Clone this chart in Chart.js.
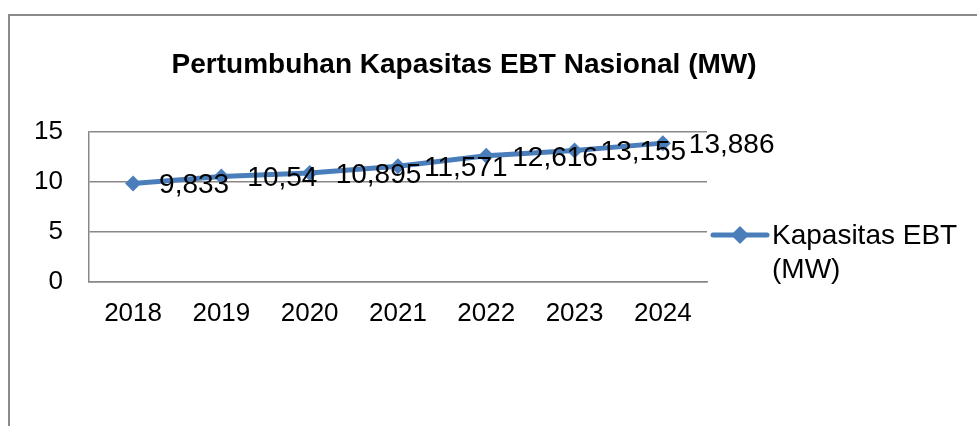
<!DOCTYPE html>
<html>
<head>
<meta charset="utf-8">
<script src="https://cdn.jsdelivr.net/npm/chart.js@4/dist/chart.umd.min.js"></script>
<style>
  html, body { margin: 0; padding: 0; background: #fff; overflow: hidden; }
  #wrap { position: relative; width: 977px; height: 426px; }
  #frame { position: absolute; left: 8px; top: 14px; width: 1000px; height: 500px; border: 2px solid #8a8a8a; }
  #c { position: absolute; left: 0; top: 0; }
</style>
</head>
<body>
<div id="wrap">
  <div id="frame"></div>
  <canvas id="c" width="977" height="426"></canvas>
</div>
<script>
// data
const years = ['2018', '2019', '2020', '2021', '2022', '2023', '2024'];
const capacity = [9.833, 10.54, 10.895, 11.571, 12.616, 13.155, 13.886];
const yTicks = [0, 5, 10, 15];
const seriesName = 'Kapasitas EBT (MW)';
const chartTitle = 'Pertumbuhan Kapasitas EBT Nasional (MW)';

const BLUE = '#4A7EBB';
const GRID = '#888888';
const FONT = '"Liberation Sans", Arial, sans-serif';

Chart.defaults.font.family = FONT;
Chart.defaults.color = '#000';

// title is centred on the whole frame, not just over the plot
const frameTitle = {
  id: 'frameTitle',
  afterDraw(chart) {
    const ctx = chart.ctx;
    ctx.save();
    ctx.font = 'bold 28px ' + FONT;
    ctx.fillStyle = '#000';
    ctx.textAlign = 'center';
    ctx.textBaseline = 'middle';
    ctx.fillText(chartTitle, chart.width * 0.475, 65);
    ctx.restore();
  }
};

// value labels to the right of every point, excel style (comma decimal)
const valueLabels = {
  id: 'valueLabels',
  afterDatasetsDraw(chart) {
    const ctx = chart.ctx;
    const meta = chart.getDatasetMeta(0);
    ctx.save();
    ctx.font = '28px ' + FONT;
    ctx.fillStyle = '#000';
    ctx.textAlign = 'left';
    ctx.textBaseline = 'middle';
    meta.data.forEach((pt, i) => {
      const txt = String(chart.data.datasets[0].data[i]).replace('.', ',');
      ctx.fillText(txt, pt.x + 26, pt.y + 2);
    });
    ctx.restore();
  }
};

// legend on the right, text wrapped like the original
const sideLegend = {
  id: 'sideLegend',
  afterDraw(chart) {
    const ctx = chart.ctx;
    const ds = chart.data.datasets[0];
    const area = chart.chartArea;
    const x0 = area.right + 4;
    const y0 = area.top + (area.bottom - area.top) * 0.687;
    ctx.save();
    ctx.strokeStyle = ds.borderColor;
    ctx.lineWidth = 5;
    ctx.lineCap = 'round';
    ctx.beginPath();
    ctx.moveTo(x0 + 2, y0);
    ctx.lineTo(x0 + 56, y0);
    ctx.stroke();
    ctx.fillStyle = ds.backgroundColor;
    ctx.beginPath();
    ctx.moveTo(x0 + 29, y0 - 9);
    ctx.lineTo(x0 + 38, y0);
    ctx.lineTo(x0 + 29, y0 + 9);
    ctx.lineTo(x0 + 20, y0);
    ctx.closePath();
    ctx.fill();

    ctx.font = '28px ' + FONT;
    ctx.fillStyle = '#000';
    ctx.textBaseline = 'middle';
    const tx = x0 + 61;
    const maxW = chart.width - tx - 4;
    const words = ds.label.split(' ');
    const lines = [];
    let cur = '';
    words.forEach(w => {
      const t = cur ? cur + ' ' + w : w;
      if (ctx.measureText(t).width > maxW && cur) { lines.push(cur); cur = w; }
      else cur = t;
    });
    if (cur) lines.push(cur);
    lines.forEach((l, i) => ctx.fillText(l, tx, y0 + 1 + i * 34));
    ctx.restore();
  }
};

new Chart(document.getElementById('c'), {
  type: 'line',
  data: {
    labels: years,
    datasets: [{
      label: seriesName,
      data: capacity,
      borderColor: BLUE,
      backgroundColor: BLUE,
      borderWidth: 5,
      pointStyle: 'rectRot',
      pointRadius: 8,
      pointBorderWidth: 0,
      tension: 0
    }]
  },
  options: {
    responsive: false,
    animation: false,
    layout: {
      padding: { left: 8, right: 270, top: 132, bottom: 81 }
    },
    plugins: {
      legend: { display: false },
      tooltip: { enabled: false },
      title: { display: false }
    },
    scales: {
      x: {
        offset: true,
        grid: { display: false, drawTicks: false },
        border: { display: true, color: GRID, width: 1.5 },
        ticks: { font: { size: 26 }, padding: 16, maxRotation: 0 }
      },
      y: {
        min: 0,
        max: 15,
        afterBuildTicks(axis) { axis.ticks = yTicks.map(v => ({ value: v })); },
        grid: { color: GRID, lineWidth: 1.5, drawTicks: false },
        border: { display: true, color: GRID, width: 1.5 },
        ticks: { font: { size: 26 }, padding: 26 }
      }
    }
  },
  plugins: [frameTitle, valueLabels, sideLegend]
});
</script>
</body>
</html>
